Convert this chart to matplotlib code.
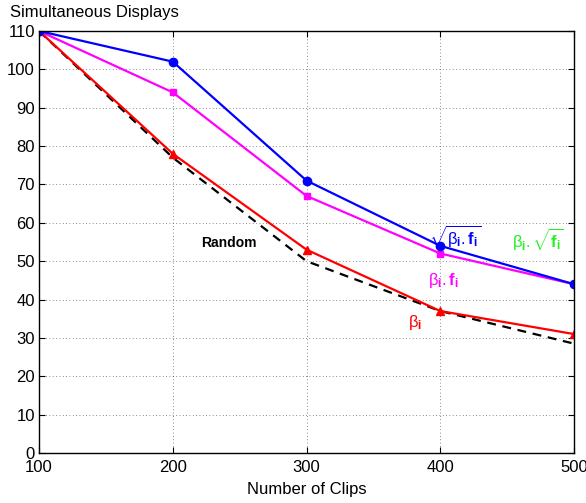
import matplotlib
matplotlib.use("Agg")
import matplotlib.pyplot as plt

plt.rcParams['font.family'] = ['Liberation Sans', 'DejaVu Sans']
plt.rcParams['mathtext.fontset'] = 'custom'
plt.rcParams['mathtext.rm'] = 'Liberation Sans'
plt.rcParams['mathtext.it'] = 'Liberation Sans'
plt.rcParams['mathtext.bf'] = 'Liberation Sans:bold'

clips = [100, 200, 300, 400, 500]
sqrt_bf = [110, 102, 71, 54, 44]
bf = [110, 94, 67, 52, 44]
beta = [110, 78, 53, 37, 31]
random_ = [110, 77, 50, 37, 28.5]
xticks = [100, 200, 300, 400, 500]
yticks = list(range(0, 111, 10))

fig = plt.figure(figsize=(5.86, 5.03), dpi=100)
ax = fig.add_axes([0.0666, 0.0994, 0.913, 0.839])

ax.plot(clips, random_, color='black', linestyle='--', linewidth=1.6, dashes=(4, 3))
ax.plot(clips, beta, color='red', linewidth=1.6, marker='^', markersize=6)
ax.plot(clips, bf, color='magenta', linewidth=1.6, marker='s', markersize=5)
ax.plot(clips, sqrt_bf, color='blue', linewidth=1.6, marker='o', markersize=6)

ax.set_xlim(100, 500)
ax.set_ylim(0, 110)
ax.set_xticks(xticks)
ax.set_yticks(yticks)
ax.tick_params(direction='in', labelsize=12, length=4, pad=3, top=True, right=True)
ax.tick_params(axis='x', pad=5)
ax.grid(True, linestyle=(0, (1, 3)), color='black', linewidth=0.6, alpha=0.6)
for s in ax.spines.values():
    s.set_linewidth(1.0)

ax.set_xlabel('Number of Clips', fontsize=12, labelpad=5)
fig.text(0.017, 0.975, 'Simultaneous Displays', fontsize=12, ha='left', va='center')

ax.text(242, 54.7, 'Random', fontsize=10, fontweight='bold', ha='center', va='center')
ax.text(411, 56.3, r'$\sqrt{\beta_\mathbf{i}{.}\mathbf{f}_\mathbf{i}}$', fontsize=12,
        color='blue', ha='center', va='center')
ax.text(473, 55.5, r'$\beta_\mathbf{i}{.}\sqrt{\mathbf{f}_\mathbf{i}}$', fontsize=12,
        color='#22ee22', ha='center', va='center')
ax.text(402, 45, r'$\beta_\mathbf{i}{.}\mathbf{f}_\mathbf{i}$', fontsize=12,
        color='magenta', ha='center', va='center')
ax.text(381, 34, r'$\beta_\mathbf{i}$', fontsize=12, color='red', ha='center', va='center')

fig.savefig('out.png', dpi=100)
